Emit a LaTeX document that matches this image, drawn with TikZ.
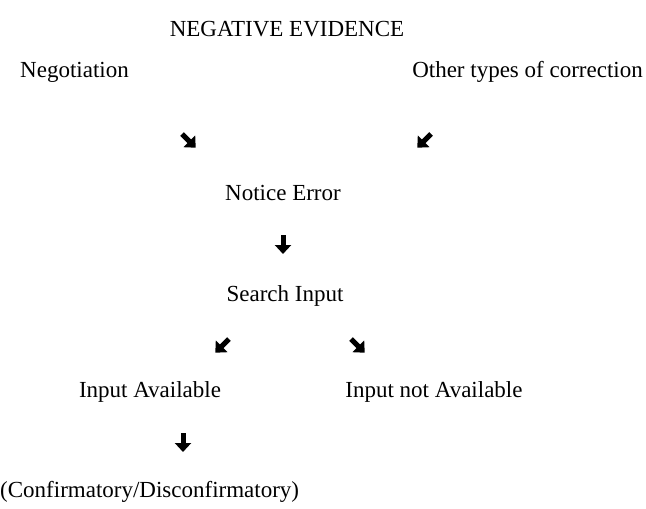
\documentclass[tikz,border=0pt]{standalone}
\usepackage{fontspec}
\setmainfont{Liberation Serif}
\usetikzlibrary{arrows.meta}
\begin{document}
\begin{tikzpicture}[x=1pt,y=-1pt,
  lbl/.style={inner sep=0pt,font=\fontsize{23}{27}\selectfont},
  fatarrow/.style={line width=5pt,-{Triangle[length=9pt,width=16pt]},shorten >=-1pt}]
\useasboundingbox (0,0) rectangle (646,509);
\node[lbl] (title) at (287,29) {NEGATIVE EVIDENCE};
\node[lbl,anchor=west] (neg) at (20,72) {Negotiation};
\node[lbl,anchor=east] (other) at (643,72) {Other types of correction};
\node[lbl] (notice) at (283,193) {Notice Error};
\node[lbl] (search) at (285,296) {Search Input};
\node[lbl] (avail) at (150,392) {Input Available};
\node[lbl] (navail) at (434,392) {Input not Available};
\node[lbl,anchor=west] (conf) at (0,492) {(Confirmatory/Disconfirmatory)};
% arrows
\coordinate (a1s) at (182,134); \coordinate (a1e) at (195,147);
\coordinate (a2s) at (431,134); \coordinate (a2e) at (418,147);
\coordinate (a3s) at (283,235); \coordinate (a3e) at (283,253);
\coordinate (a4s) at (229,339); \coordinate (a4e) at (216,352);
\coordinate (a5s) at (351,339); \coordinate (a5e) at (364,352);
\coordinate (a6s) at (183,433); \coordinate (a6e) at (183,451);
\foreach \i in {1,...,6} \draw[fatarrow] (a\i s) -- (a\i e);
\end{tikzpicture}
\end{document}
